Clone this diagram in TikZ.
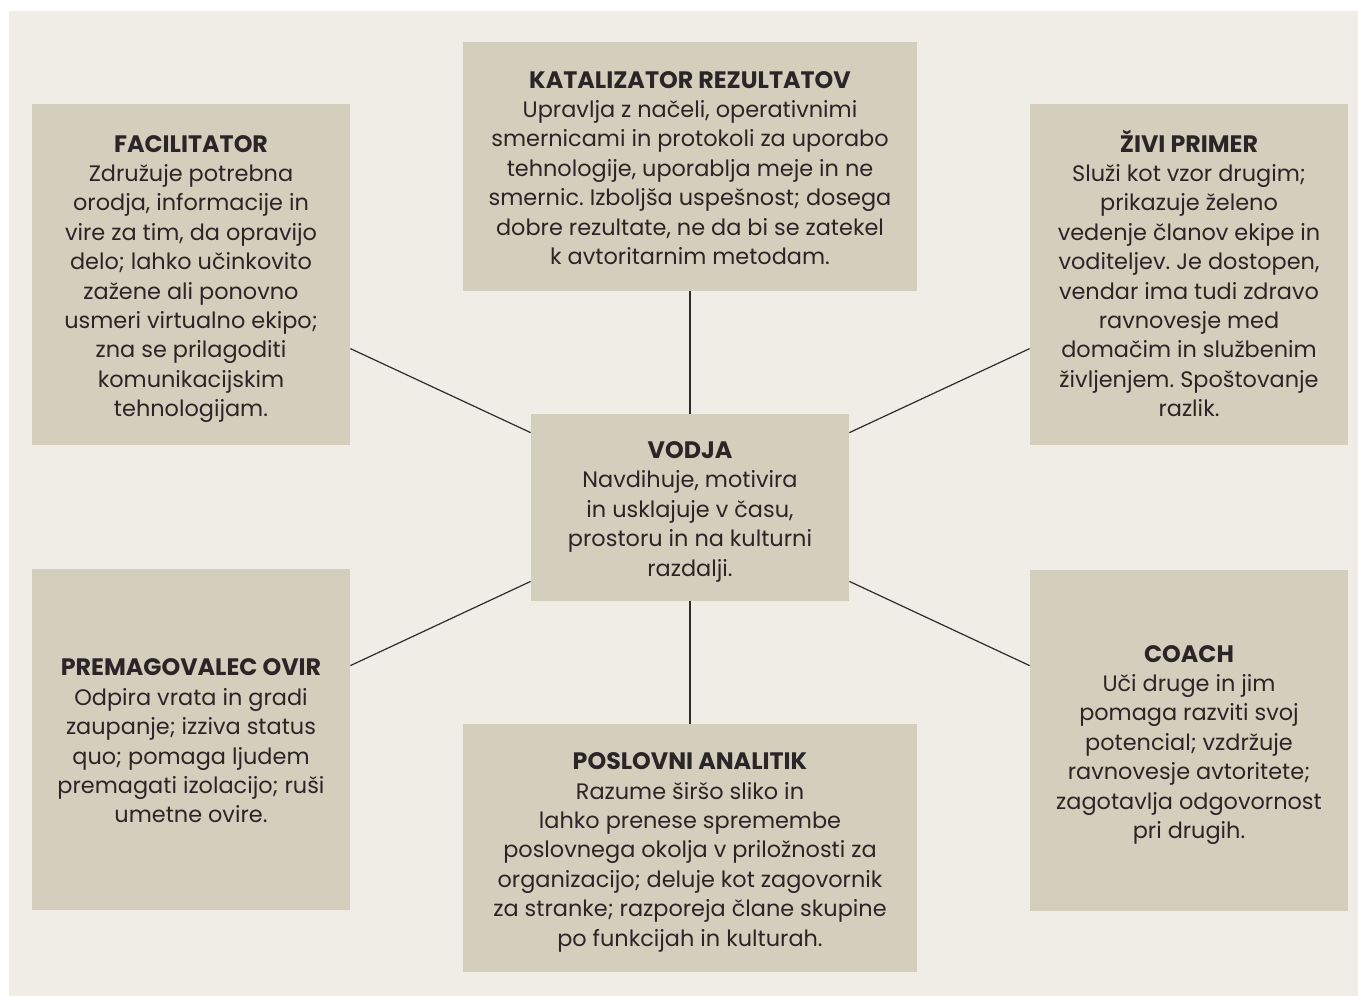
\documentclass[tikz,border=0pt]{standalone}
\usepackage{fontspec}
\setmainfont{Poppins}
\frenchspacing
\definecolor{bgc}{HTML}{F0EDE6}
\definecolor{boxc}{HTML}{D4CFBD}
\definecolor{txtc}{HTML}{2A2526}
\definecolor{linec}{HTML}{2F2B2B}
\newcommand{\cardtitle}[1]{\rule{0pt}{13.8pt}{\fontsize{11.9pt}{14.7pt}\selectfont\bfseries #1}}
\newcommand{\lastline}[1]{#1\rule[-4pt]{0pt}{4pt}}
\begin{document}
\begin{tikzpicture}[x=0.5pt,y=-0.5pt,
  card/.style={fill=boxc, draw=none, inner sep=0pt, align=center, text=txtc,
    font=\fontsize{11.2pt}{14.7pt}\selectfont\frenchspacing},
  narrow/.style={card, minimum width=159pt, minimum height=170.5pt},
  wide/.style={card, minimum width=227pt, minimum height=124.5pt},
  link/.style={draw=linec, line width=0.6pt}]
\useasboundingbox (0,0) rectangle (1358,996);
\fill[bgc] (9,11) rectangle (1358,996);

\node[narrow] (fac) at (191,274.5) {\cardtitle{FACILITATOR}\\Združuje potrebna\\orodja, informacije in\\vire za tim, da opravijo\\delo; lahko učinkovito\\zažene ali ponovno\\usmeri virtualno ekipo;\\zna se prilagoditi\\komunikacijskim\\\lastline{tehnologijam.}};

\node[wide] (kat) at (690,166.5) {\cardtitle{KATALIZATOR REZULTATOV}\\Upravlja z načeli, operativnimi\\smernicami in protokoli za uporabo\\tehnologije, uporablja meje in ne\\smernic. Izboljša uspešnost; dosega\\dobre rezultate, ne da bi se zatekel\\\lastline{k avtoritarnim metodam.}};

\node[narrow] (zivi) at (1189,274.5) {\cardtitle{ŽIVI PRIMER}\\Služi kot vzor drugim;\\prikazuje želeno\\vedenje članov ekipe in\\voditeljev. Je dostopen,\\vendar ima tudi zdravo\\ravnovesje med\\domačim in službenim\\življenjem. Spoštovanje\\\lastline{razlik.}};

\node[card, minimum width=159pt, minimum height=93.5pt] (vodja) at (690,507.5) {\cardtitle{VODJA}\\Navdihuje, motivira\\in usklajuje v času,\\prostoru in na kulturni\\\lastline{razdalji.}};

\node[narrow] (prem) at (191,739.5) {\cardtitle{PREMAGOVALEC OVIR}\\Odpira vrata in gradi\\zaupanje; izziva status\\quo; pomaga ljudem\\premagati izolacijo; ruši\\\lastline{umetne ovire.}};

\node[wide, minimum height=124pt] (posl) at (690,848) {\cardtitle{POSLOVNI ANALITIK}\\Razume širšo sliko in\\lahko prenese spremembe\\poslovnega okolja v priložnosti za\\organizacijo; deluje kot zagovornik\\za stranke; razporeja člane skupine\\\lastline{po funkcijah in kulturah.}};

\node[narrow] (coach) at (1189,740.5) {\cardtitle{COACH}\\Uči druge in jim\\pomaga razviti svoj\\potencial; vzdržuje\\ravnovesje avtoritete;\\zagotavlja odgovornost\\\lastline{pri drugih.}};

\draw[link] (kat.south) -- (vodja.north);
\draw[link] (vodja.south) -- (posl.north);
\draw[link] ([yshift=-122.5pt]fac.north east) -- ([yshift=-9.5pt]vodja.north west);
\draw[link] ([yshift=-122.5pt]zivi.north west) -- ([yshift=-9.5pt]vodja.north east);
\draw[link] ([yshift=-48.5pt]prem.north east) -- ([yshift=10pt]vodja.south west);
\draw[link] ([yshift=-48pt]coach.north west) -- ([yshift=10pt]vodja.south east);
\end{tikzpicture}
\end{document}
